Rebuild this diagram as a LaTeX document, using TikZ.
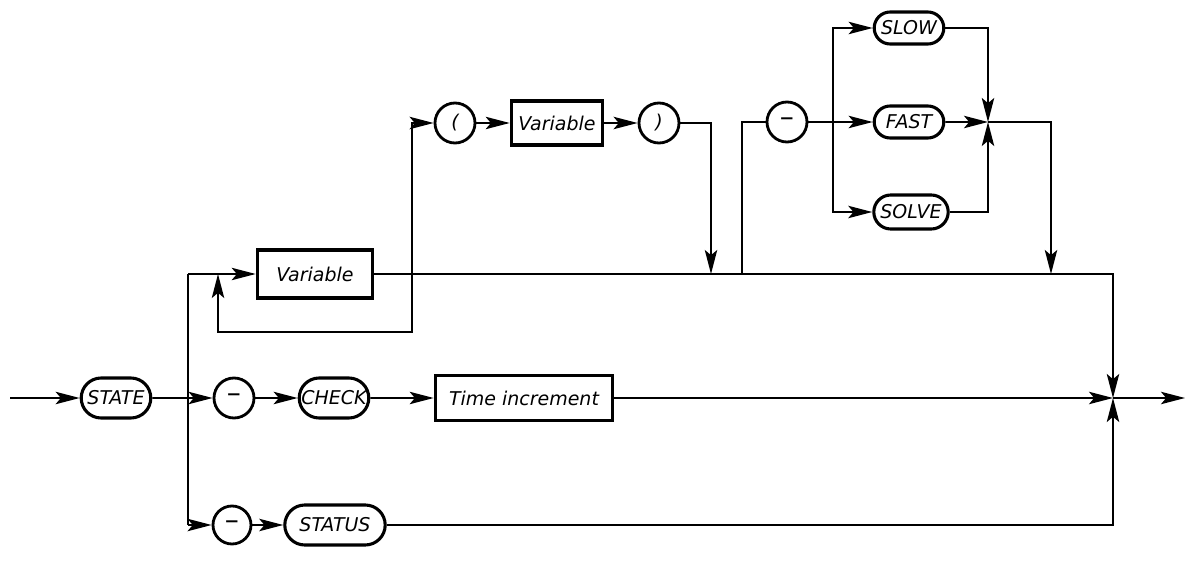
\documentclass[tikz,border=0pt]{standalone}
\usepackage{fontspec}
\setmainfont{DejaVu Sans}
\usetikzlibrary{arrows.meta,shapes.misc}

\begin{document}
\begin{tikzpicture}[
        x=0.025cm, y=-0.025cm,
        font=\fontsize{13.5}{16}\selectfont\itshape,
        >={Stealth[length=6mm,width=3.1mm,inset=1.3mm]},
        term/.style={draw, rounded rectangle, line width=2.2pt, minimum height=1cm, minimum width=1.88cm, inner sep=2pt},
        nonterm/.style={draw, rectangle, line width=2.4pt, minimum height=1.15cm, inner sep=4pt},
        sym/.style={draw, circle, line width=2pt, minimum size=1cm, inner sep=0pt},
        minus/.style={font=\fontsize{20}{20}\selectfont\upshape},
        link/.style={line width=1.3pt}
    ]
        \useasboundingbox (0,0) rectangle (1198,564);

        \node[term] (state) at (116,398) {STATE};
        \node[sym, minus] (dasha) at (234,398) {--};
        \node[term] (check) at (334,398) {CHECK};
        \node[nonterm, minimum width=4.43cm, minimum height=1.12cm] (time) at (524,398) {Time increment};

        \node[sym, minus, minimum size=0.95cm] (dashb) at (232,525) {--};
        \node[term, minimum width=2.65cm] (status) at (335,525) {STATUS};

        \node[nonterm, minimum width=2.88cm, minimum height=1.2cm] (var) at (315,274) {Variable};
        \node[sym] (lpar) at (455,123) {(};
        \node[nonterm, minimum width=2.28cm, minimum height=1.1cm] (varin) at (557,123) {Variable};
        \node[sym] (rpar) at (659,123) {)};

        \node[sym, minus] (dashc) at (787,122) {--};
        \node[term, minimum height=0.8cm] (slow) at (909,28) {SLOW};
        \node[term, minimum height=0.8cm] (fast) at (909,122) {FAST};
        \node[term, minimum height=0.85cm, minimum width=2cm] (solve) at (911,212) {SOLVE};

        \coordinate (in) at (10,398);
        \coordinate (split) at (188,398);
        \coordinate (splittop) at (188,274);
        \coordinate (splitbot) at (188,525);
        \coordinate (loopend) at (218,274);
        \coordinate (parfork) at (412,274);
        \coordinate (loopbot) at (412,332);
        \coordinate (parjoin) at (711,274);
        \coordinate (modefork) at (742,274);
        \coordinate (pickfork) at (833,122);
        \coordinate (pickjoin) at (988,122);
        \coordinate (modejoin) at (1051,274);
        \coordinate (topend) at (1113,274);
        \coordinate (merge) at (1113,398);
        \coordinate (out) at (1185,398);

        \draw[link, ->] (in) -- (state);
        \draw[link] (state) -- (split);
        \draw[link] (splittop) -- (splitbot);
        \draw[link, ->] (split) -- (dasha);
        \draw[link, ->] (dasha) -- (check);
        \draw[link, ->] (check) -- (time);
        \draw[link, ->] (time) -- (merge);
        \draw[link, ->] (merge) -- (out);

        \draw[link, ->] (splitbot) -- (dashb);
        \draw[link, ->] (dashb) -- (status);
        \draw[link, ->] (status) -| (merge);

        \draw[link, ->] (splittop) -- (var);
        \draw[link, ->] (var) -- (topend) -- (merge);
        \draw[link, ->] (parfork) -- (loopbot) -| (loopend);
        \draw[link, ->] (parfork) |- (lpar);
        \draw[link, ->] (lpar) -- (varin);
        \draw[link, ->] (varin) -- (rpar);
        \draw[link, ->] (rpar) -| (parjoin);

        \draw[link] (modefork) |- (dashc);
        \draw[link, ->] (dashc) -- (fast);
        \draw[link, ->] (pickfork) |- (slow);
        \draw[link, ->] (pickfork) |- (solve);
        \draw[link, ->] (slow) -| (pickjoin);
        \draw[link, ->] (solve) -| (pickjoin);
        \draw[link, ->] (fast) -- (pickjoin);
        \draw[link, ->] (pickjoin) -| (modejoin);
    \end{tikzpicture}
\end{document}
